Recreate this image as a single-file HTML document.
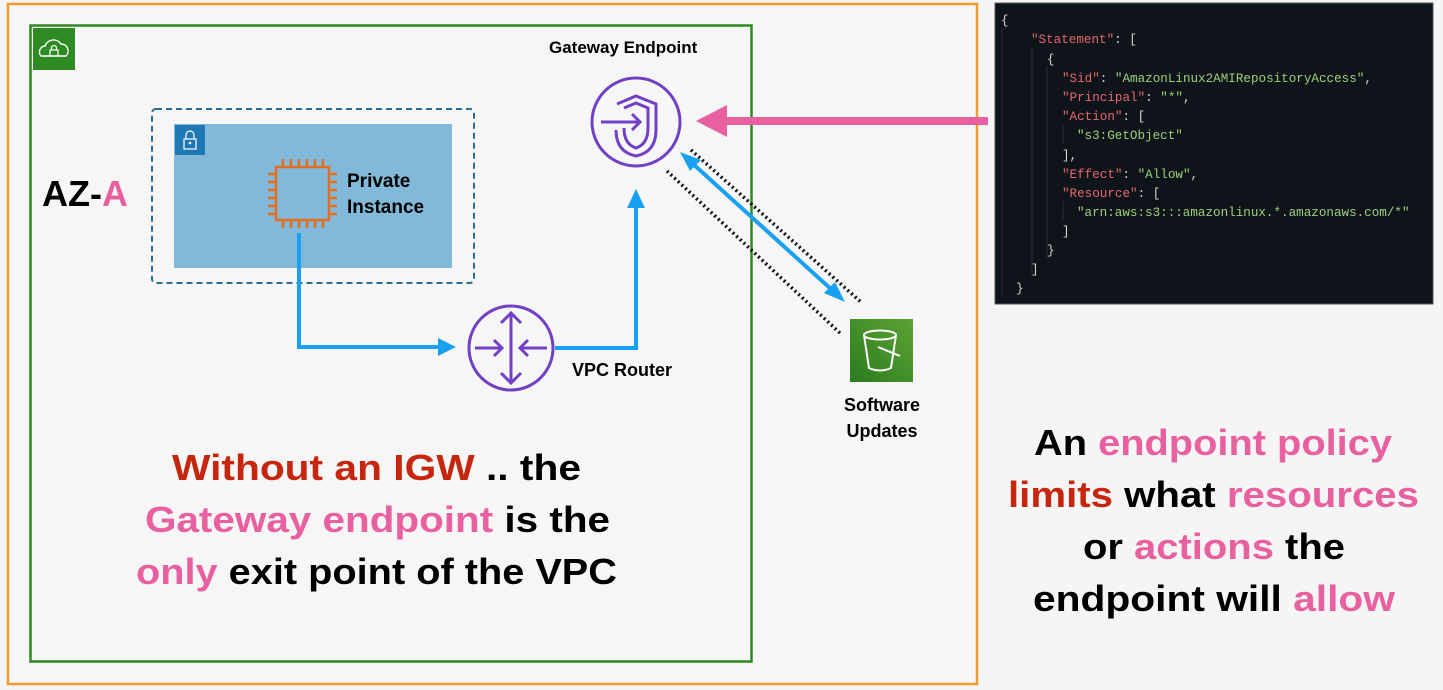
<!DOCTYPE html>
<html><head><meta charset="utf-8"><style>
html,body{margin:0;padding:0;background:#f5f5f5;}
svg{display:block;font-family:"Liberation Sans",sans-serif;}
.b{font-weight:bold;}
.m{font-family:"Liberation Mono",monospace;font-size:12.6px;}
</style></head><body>
<svg width="1443" height="690" viewBox="0 0 1443 690">
<rect x="0" y="0" width="1443" height="690" fill="#f5f5f5"/>
<rect x="8" y="4" width="969" height="680" fill="#f6f6f6" stroke="#f29b2b" stroke-width="2.5"/>
<rect x="30.5" y="25.5" width="721" height="636" fill="none" stroke="#2e8a22" stroke-width="2.5"/>
<rect x="33" y="28" width="42" height="42" fill="#2e8a22"/>
<path d="M41 56 a6 6 0 0 1 4-10 a9 9 0 0 1 16-2 a7 7 0 0 1 5 12 z" fill="none" stroke="#fff" stroke-width="1.4"/>
<rect x="50" y="50" width="8" height="6" fill="none" stroke="#fff" stroke-width="1.2"/>
<path d="M51.5 50 v-2 a2.5 2.5 0 0 1 5 0 v2" fill="none" stroke="#fff" stroke-width="1.2"/>
<text x="42" y="206" class="b" font-size="36" fill="#000">AZ-<tspan fill="#e8609f">A</tspan></text>
<rect x="152" y="109" width="322" height="174" rx="4" fill="none" stroke="#2a6c95" stroke-width="2" stroke-dasharray="6,4"/>
<rect x="174" y="124" width="278" height="144" fill="#82b8d8"/>
<rect x="175" y="125" width="30" height="30" fill="#1f78b4"/>
<rect x="184" y="139" width="12" height="10" fill="none" stroke="#fff" stroke-width="1.2"/>
<path d="M186 139 v-4 a4 4 0 0 1 8 0 v4" fill="none" stroke="#fff" stroke-width="1.2"/>
<circle cx="190" cy="143" r="1.3" fill="#fff"/>
<g stroke="#e06f1f" stroke-width="2.5" fill="none">
<rect x="276" y="167" width="53" height="53"/>
<path d="M283 159v8M291 159v8M299 159v8M307 159v8M315 159v8M323 159v8 M283 220v8M291 220v8M299 220v8M307 220v8M315 220v8M323 220v8 M268 174h8M268 182h8M268 190h8M268 198h8M268 206h8M268 214h8 M329 174h8M329 182h8M329 190h8M329 198h8M329 206h8M329 214h8"/>
</g>
<text x="347" y="187" class="b" font-size="19">Private</text>
<text x="347" y="213" class="b" font-size="19">Instance</text>
<g stroke="#1aa0f0" stroke-width="4" fill="none">
<path d="M299 233 V347 H440"/>
<path d="M555 348 H636 V208"/>
</g>
<polygon points="456,347 438,338 438,356" fill="#1aa0f0"/>
<polygon points="636,189 627,208 645,208" fill="#1aa0f0"/>
<circle cx="511" cy="348" r="42" fill="none" stroke="#7140c4" stroke-width="3"/>
<g stroke="#7140c4" stroke-width="3" fill="none">
<path d="M511 313 V383 M501 323 L511 313 L521 323 M501 373 L511 383 L521 373"/>
<path d="M475 348 H502 M494 340 L502 348 L494 356 M547 348 H520 M528 340 L520 348 L528 356"/>
</g>
<text x="572" y="376" class="b" font-size="18">VPC Router</text>
<text x="549" y="53" class="b" font-size="17">Gateway Endpoint</text>
<circle cx="636" cy="122" r="44" fill="none" stroke="#7140c4" stroke-width="3"/>
<g stroke="#7140c4" stroke-width="3" fill="none">
<path d="M617 104 L636 96 L656 104 V130 Q656 152 636 156 Q616 152 616 130"/>
<path d="M624 108 L636 103 L648 108 V128 Q648 144 636 148 Q624 144 624 128"/>
<path d="M601 122 H640 M632 114 L640 122 L632 130"/>
</g>
<path d="M988 121 H720" stroke="#e8609f" stroke-width="8"/>
<polygon points="696,121 727,105 727,137" fill="#e8609f"/>
<g stroke="#111" stroke-width="3.5" stroke-dasharray="2,3" fill="none">
<path d="M691 150 L862 303"/>
<path d="M667 171 L841 334"/>
</g>
<path d="M692 163 L832 290" stroke="#1aa0f0" stroke-width="4"/>
<polygon points="680,152 701,160 690,171" fill="#1aa0f0"/>
<polygon points="845,302 824,293 835,282" fill="#1aa0f0"/>
<defs><linearGradient id="s3" x1="0" y1="1" x2="1" y2="0"><stop offset="0" stop-color="#2a7b1f"/><stop offset="1" stop-color="#5da334"/></linearGradient></defs>
<rect x="850" y="319" width="63" height="63" fill="url(#s3)"/>
<g stroke="#fff" stroke-width="2" fill="none">
<ellipse cx="880" cy="335" rx="16" ry="4.5"/>
<path d="M864 335 L869 368 Q880 373 891 368 L896 335"/>
<path d="M878 347 L900 356"/>
</g>
<text x="882" y="411" class="b" font-size="18" text-anchor="middle">Software</text>
<text x="882" y="437" class="b" font-size="18" text-anchor="middle">Updates</text>
<g class="b" font-size="36">
<text x="172" y="480" textLength="409" lengthAdjust="spacingAndGlyphs"><tspan fill="#c7260e">Without an IGW</tspan> .. the</text>
<text x="145" y="532" textLength="465" lengthAdjust="spacingAndGlyphs"><tspan fill="#e8609f">Gateway endpoint</tspan> is the</text>
<text x="136" y="584" textLength="481" lengthAdjust="spacingAndGlyphs"><tspan fill="#e8609f">only</tspan> exit point of the VPC</text>
<text x="1034" y="455" textLength="358" lengthAdjust="spacingAndGlyphs">An <tspan fill="#e8609f">endpoint policy</tspan></text>
<text x="1008" y="507" textLength="411" lengthAdjust="spacingAndGlyphs"><tspan fill="#c7260e">limits</tspan> what <tspan fill="#e8609f">resources</tspan></text>
<text x="1083" y="559" textLength="262" lengthAdjust="spacingAndGlyphs">or <tspan fill="#e8609f">actions</tspan> the</text>
<text x="1033" y="611" textLength="362" lengthAdjust="spacingAndGlyphs">endpoint will <tspan fill="#e8609f">allow</tspan></text>
</g>
<rect x="995" y="3" width="438" height="301" fill="#0f141a" stroke="#555" stroke-width="1"/>
<g stroke="#2a2f36" stroke-width="1">
<path d="M1002 28 V296 M1032 48 V276 M1047 66 V258 M1063 124 V144 M1063 201 V221"/>
</g>
<g class="m" fill="#d4d4d4">
<text x="1001" y="24">{</text>
<text x="1031" y="43"><tspan fill="#e8676b">"Statement"</tspan>: [</text>
<text x="1047" y="63">{</text>
<text x="1062" y="82"><tspan fill="#e8676b">"Sid"</tspan>: <tspan fill="#9ed07a">"AmazonLinux2AMIRepositoryAccess"</tspan>,</text>
<text x="1062" y="101"><tspan fill="#e8676b">"Principal"</tspan>: <tspan fill="#9ed07a">"*"</tspan>,</text>
<text x="1062" y="120"><tspan fill="#e8676b">"Action"</tspan>: [</text>
<text x="1077" y="139" fill="#9ed07a">"s3:GetObject"</text>
<text x="1062" y="159">],</text>
<text x="1062" y="178"><tspan fill="#e8676b">"Effect"</tspan>: <tspan fill="#9ed07a">"Allow"</tspan>,</text>
<text x="1062" y="197"><tspan fill="#e8676b">"Resource"</tspan>: [</text>
<text x="1077" y="216" fill="#9ed07a">"arn:aws:s3:::amazonlinux.*.amazonaws.com/*"</text>
<text x="1062" y="235">]</text>
<text x="1047" y="254">}</text>
<text x="1031" y="273">]</text>
<text x="1016" y="292">}</text>
</g>
</svg>
</body></html>
